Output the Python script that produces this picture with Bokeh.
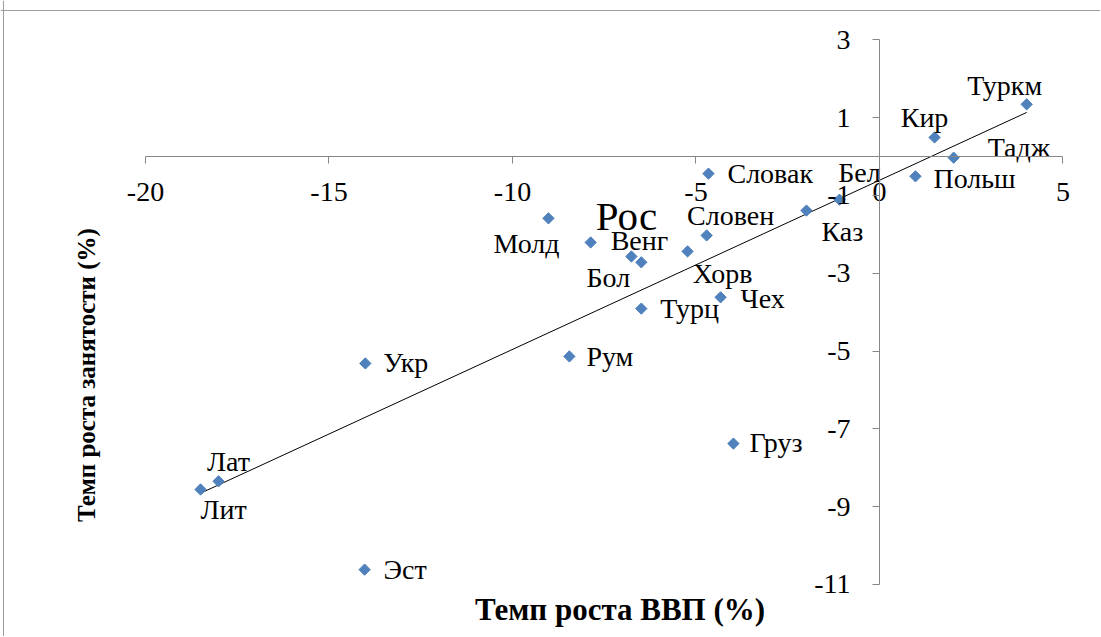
import math
import numpy as np
from bokeh.plotting import figure
from bokeh.models import ColumnDataSource, Range1d, FixedTicker, Span, Label
from bokeh.core.properties import value
from bokeh.embed import file_html
from bokeh.resources import INLINE

# ---------------- data ----------------
countries = ["Туркм", "Кир", "Тадж", "Польш", "Бел", "Каз", "Словак", "Словен",
             "Хорв", "Чех", "Турц", "Венг", "Молд", "Рос", "Бол", "Укр", "Рум",
             "Груз", "Лат", "Лит", "Эст"]
gdp_growth = [4.01, 1.50, 2.02, 0.98, -1.09, -1.99, -4.66, -4.71,
              -5.23, -4.33, -6.49, -7.87, -9.02, -6.76, -6.49, -14.01, -8.45,
              -3.98, -18.01, -18.50, -14.03]
emp_growth = [1.34, 0.49, -0.03, -0.51, -1.11, -1.39, -0.44, -2.03,
              -2.44, -3.62, -3.91, -2.21, -1.59, -2.57, -2.72, -5.32, -5.14,
              -7.38, -8.35, -8.56, -10.62]
x_ticks = [-20, -15, -10, -5, 0, 5]
y_ticks = [-11, -9, -7, -5, -3, -1, 1, 3]
x_title = "Темп роста ВВП (%)"
y_title = "Темп роста занятости (%)"

# ---------------- label placement (align, dx px, dy px, font size) ----------------
label_place = {
    "Туркм": ("center", -22, -19, "28px"),
    "Кир": ("center", -10, -20, "28px"),
    "Тадж": ("left", 34, -10, "28px"),
    "Польш": ("left", 18, 2, "28px"),
    "Бел": ("center", 20, -27, "28px"),
    "Каз": ("center", 36, 21, "28px"),
    "Словак": ("left", 19, 0, "28px"),
    "Словен": ("center", 24, -20, "28px"),
    "Хорв": ("center", 35, 22, "28px"),
    "Чех": ("left", 20, 1, "28px"),
    "Турц": ("left", 19, 0, "28px"),
    "Венг": ("left", 20, -2, "28px"),
    "Молд": ("center", -22, 25, "28px"),
    "Рос": ("center", -5, -40, "41px"),
    "Бол": ("center", -33, 15, "28px"),
    "Укр": ("left", 18, -1, "28px"),
    "Рум": ("left", 17, 0, "28px"),
    "Груз": ("left", 16, -1, "28px"),
    "Лат": ("center", 10, -20, "28px"),
    "Лит": ("center", 23, 20, "28px"),
    "Эст": ("left", 19, 0, "28px"),
}

FONT = "'Liberation Serif', 'Times New Roman', serif"
AXIS_GREY = "#868686"
MARKER = "#4F81BD"

p = figure(width=1100, height=636,
           x_range=Range1d(-23.951, 6.022), y_range=Range1d(-12.339, 4.010),
           output_backend="svg", toolbar_location=None, min_border=0,
           outline_line_color=None, background_fill_color="white",
           border_fill_color="white")
p.xgrid.visible = False
p.ygrid.visible = False

for ax, ticks, bounds, standoff in ((p.xaxis, x_ticks, (-20, 5), 20),
                                    (p.yaxis, y_ticks, (-11, 3), 22)):
    ax.fixed_location = 0
    ax.bounds = bounds
    ax.ticker = FixedTicker(ticks=ticks)
    ax.major_label_overrides = {t: str(t) for t in ticks}
    ax.axis_line_color = AXIS_GREY
    ax.major_tick_line_color = AXIS_GREY
    ax.major_tick_in = 0
    ax.major_tick_out = 7
    ax.minor_tick_line_color = None
    ax.major_label_text_font = FONT
    ax.major_label_text_font_size = "28px"
    ax.major_label_text_color = "black"
    ax.major_label_standoff = standoff

# trend line (least squares fit over the data)
slope, intercept = np.polyfit(gdp_growth, emp_growth, 1)
xs = [min(gdp_growth), max(gdp_growth)]
p.line(xs, [slope * v + intercept for v in xs], line_color="black", line_width=1)

# points
src = ColumnDataSource(dict(x=gdp_growth, y=emp_growth, name=countries))
p.scatter("x", "y", source=src, marker="square", size=8, angle=math.pi / 4,
          fill_color=MARKER, line_color=MARKER)

# labels
groups = {}
for i, c in enumerate(countries):
    al, dx, dy, fs = label_place[c]
    g = groups.setdefault((al, fs), dict(x=[], y=[], t=[], dx=[], dy=[]))
    g["x"].append(gdp_growth[i]); g["y"].append(emp_growth[i]); g["t"].append(c)
    g["dx"].append(dx); g["dy"].append(dy)
for (al, fs), g in groups.items():
    s = ColumnDataSource(g)
    p.text("x", "y", text="t", x_offset="dx", y_offset="dy", source=s,
           text_align=al, text_baseline="alphabetic",
           text_font=value(FONT), text_font_size=fs, text_color="black")

# axis titles
p.add_layout(Label(x=-7.07, y=-11.64, text=x_title, text_align="center",
                   text_baseline="alphabetic", text_font=FONT,
                   text_font_size="31px", text_font_style="bold",
                   text_color="black"))
p.add_layout(Label(x=-21.60, y=-5.62, text=y_title, angle=math.pi / 2,
                   text_align="center", text_baseline="alphabetic",
                   text_font=FONT, text_font_size="25px",
                   text_font_style="bold", text_color="black"))

# chart border (top and left edges)
p.add_layout(Span(location=3.753, dimension="width", line_color="#9b9b9b", line_width=1))
p.add_layout(Span(location=-23.87, dimension="height", line_color="#9b9b9b", line_width=1))

open("out.html", "w").write(file_html(p, INLINE))
